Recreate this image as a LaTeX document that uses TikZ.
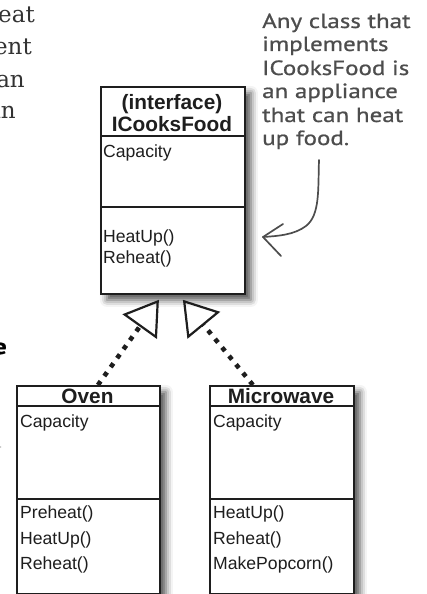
\documentclass[tikz,border=0pt]{standalone}
\usepackage{fontspec}
\newfontfamily\umlfont{Liberation Sans}
\newfontfamily\hand{PT Sans}[FakeStretch=1.22,FakeBold=0.8]
\newfontfamily\fragfont{DejaVu Serif}
\usetikzlibrary{arrows.meta,shadows.blur,calc}
\definecolor{ink}{HTML}{1E1E1E}
\definecolor{notegray}{HTML}{4D4D4D}
\definecolor{fraggray}{HTML}{333333}
\begin{document}
\begin{tikzpicture}[x=1pt,y=-1pt,
  umlbox/.style={draw=ink, line width=1.8pt, fill=white, anchor=north west, inner sep=0pt,
    blur shadow={shadow xshift=6pt, shadow yshift=-6pt, shadow blur radius=7pt, shadow opacity=70}},
  hdr/.style={font=\umlfont\bfseries\fontsize{20.8}{21}\selectfont, text=ink, anchor=base, inner sep=0pt},
  attr/.style={font=\umlfont\fontsize{17.6}{18}\selectfont, text=ink, anchor=base west, inner sep=0pt},
  divider/.style={draw=ink, line width=1.8pt},
  note/.style={font=\hand\fontsize{20.5}{20.5}\selectfont, text=notegray, anchor=base west, inner sep=0pt},
  frag/.style={font=\fragfont\fontsize{23}{23}\selectfont, text=fraggray, anchor=base east, inner sep=0pt},
  realize/.style={draw=ink, line width=4.6pt, dash pattern=on 4.6pt off 6.4pt,
    -{Triangle[open, length=33pt, width=42pt, line width=2.2pt]}},
  pointer/.style={draw=notegray, line width=1.7pt, line cap=round, line join=round}
]
\useasboundingbox (0,0) rectangle (427,594);
\clip (0,0) rectangle (427,594);

% left page fragments
\node[frag] (f1) at (35,23) {heat};
\node[frag] (f2) at (32,55) {ent};
\node[frag] (f3) at (25,87) {an};
\node[frag] (f4) at (16,118) {an};
\node[font=\hand\bfseries\fontsize{22}{22}\selectfont, text=black, anchor=base east, inner sep=0pt] (f5) at (7,354) {e};
\fill[black!35] (0.6,447) circle (0.7);

% interface box
\node[umlbox, minimum width=144pt, minimum height=207pt] (iface) at (100,86) {};
\draw[divider] (100,136) -- (244,136);
\draw[divider] (100,207) -- (244,207);
\node[hdr] (ifh1) at (172,109) {(interface)};
\node[hdr] (ifh2) at (172,131) {ICooksFood};
\node[attr] (ifa) at (103,157) {Capacity};
\node[attr] (ifm1) at (103,242) {HeatUp()};
\node[attr] (ifm2) at (103,263) {Reheat()};

% oven box
\node[umlbox, minimum width=143pt, minimum height=208pt] (oven) at (16,385) {};
\draw[divider] (16,406) -- (159,406);
\draw[divider] (16,499) -- (159,499);
\node[hdr] (ovh) at (87.5,403) {Oven};
\node[attr] (ova) at (20,427) {Capacity};
\node[attr] (ovm1) at (20,518) {Preheat()};
\node[attr] (ovm2) at (20,544) {HeatUp()};
\node[attr] (ovm3) at (20,569) {Reheat()};

% microwave box
\node[umlbox, minimum width=144pt, minimum height=208pt] (micro) at (209,385) {};
\draw[divider] (209,406) -- (353,406);
\draw[divider] (209,499) -- (353,499);
\node[hdr] (mwh) at (281,403) {Microwave};
\node[attr] (mwa) at (213,427) {Capacity};
\node[attr] (mwm1) at (213,518) {HeatUp()};
\node[attr] (mwm2) at (213,544) {Reheat()};
\node[attr] (mwm3) at (213,569) {MakePopcorn()};

% realization connectors
\coordinate (ovtop) at ($(oven.north)+(9.5,0)$);
\coordinate (ifL) at ($(iface.south)+(-14,5)$);
\coordinate (mwtop) at ($(micro.north)+(-29,0)$);
\coordinate (ifR) at ($(iface.south)+(10,5)$);
\draw[realize] (ovtop) -- (ifL);
\draw[realize] (mwtop) -- (ifR);

% handwritten note
\node[note] (n1) at (262,28) {Any class that};
\node[note] (n2) at (262,51) {implements};
\node[note] (n3) at (262,75) {ICooksFood is};
\node[note] (n4) at (262,98) {an appliance};
\node[note] (n5) at (262,122) {that can heat};
\node[note] (n6) at (262,145) {up food.};
\coordinate (tip) at (263,237);
\draw[pointer] (319,160) .. controls (318,190) and (320,215) .. (306,226)
  .. controls (294,235) and (278,236) .. (tip);
\draw[pointer] (283,224) -- (tip) -- (281,256);
\end{tikzpicture}
\end{document}
